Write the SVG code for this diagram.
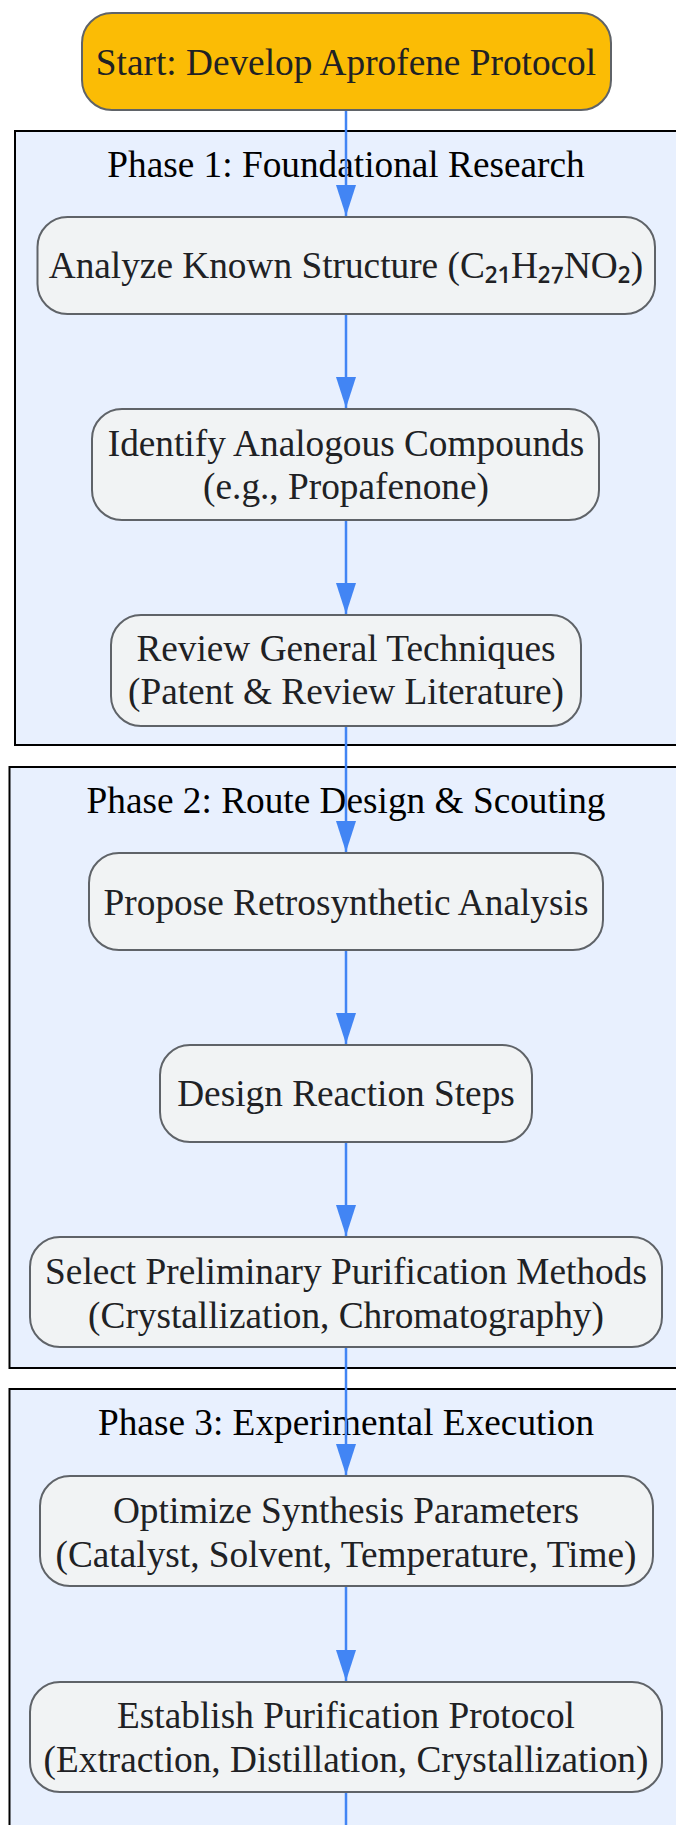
<svg xmlns="http://www.w3.org/2000/svg" width="676" height="1825" viewBox="0 0 676 1825">
<style>
.cluster{fill:#E8F0FE;stroke:#000;stroke-width:2}
.ctitle{font-family:"Liberation Serif","Times New Roman",serif;font-size:37.3px;fill:#000;text-anchor:middle}
.node{fill:#F1F3F4;stroke:#5F6368;stroke-width:2}
.start{fill:#FBBC05;stroke:#5F6368;stroke-width:2}
.label{font-family:"Liberation Serif","Times New Roman",serif;font-size:37.3px;fill:#202124;text-anchor:middle}
.sub{font-family:"Noto Sans",sans-serif}
.edge{stroke:#4285F4;stroke-width:2.5;fill:none}
</style>
<defs>
<marker id="arrow" markerUnits="userSpaceOnUse" markerWidth="31" markerHeight="20" refX="31" refY="10" orient="auto">
<path d="M0,0 L31,10 L0,20 z" fill="#4285F4"/>
</marker>
</defs>
<g id="clusters">
<g id="phase1">
<rect class="cluster" x="15" y="131" width="665" height="614"/>
<text class="ctitle" x="346" y="177">Phase 1: Foundational Research</text>
</g>
<g id="phase2">
<rect class="cluster" x="9.5" y="767" width="670" height="601"/>
<text class="ctitle" x="346" y="813">Phase 2: Route Design &amp; Scouting</text>
</g>
<g id="phase3">
<rect class="cluster" x="9.5" y="1389" width="670" height="460"/>
<text class="ctitle" x="346" y="1435">Phase 3: Experimental Execution</text>
</g>
</g>
<g id="edges">
<line class="edge" x1="346" y1="110" x2="346" y2="216" marker-end="url(#arrow)"/>
<line class="edge" x1="346" y1="314" x2="346" y2="408" marker-end="url(#arrow)"/>
<line class="edge" x1="346" y1="520" x2="346" y2="614" marker-end="url(#arrow)"/>
<line class="edge" x1="346" y1="726" x2="346" y2="852" marker-end="url(#arrow)"/>
<line class="edge" x1="346" y1="950" x2="346" y2="1044" marker-end="url(#arrow)"/>
<line class="edge" x1="346" y1="1142" x2="346" y2="1236" marker-end="url(#arrow)"/>
<line class="edge" x1="346" y1="1347" x2="346" y2="1475" marker-end="url(#arrow)"/>
<line class="edge" x1="346" y1="1586" x2="346" y2="1681" marker-end="url(#arrow)"/>
<line class="edge" x1="346" y1="1792" x2="346" y2="1825"/>
</g>
<g id="start">
<rect class="start" x="82" y="13" width="529" height="97" rx="30" ry="30"/>
<text class="label" x="346" y="75">Start: Develop Aprofene Protocol</text>
</g>
<g id="analyze">
<rect class="node" x="37.5" y="217" width="617.5" height="97" rx="30" ry="30"/>
<text class="label" x="346" y="278">Analyze Known Structure (C<tspan class="sub">₂₁</tspan>H<tspan class="sub">₂₇</tspan>NO<tspan class="sub">₂</tspan>)</text>
</g>
<g id="identify">
<rect class="node" x="92" y="409" width="507" height="111" rx="30" ry="30"/>
<text class="label" x="346" y="456">Identify Analogous Compounds</text>
<text class="label" x="346" y="499">(e.g., Propafenone)</text>
</g>
<g id="review">
<rect class="node" x="111" y="615" width="470" height="111" rx="30" ry="30"/>
<text class="label" x="346" y="661">Review General Techniques</text>
<text class="label" x="346" y="704">(Patent &amp; Review Literature)</text>
</g>
<g id="propose">
<rect class="node" x="89" y="853" width="514" height="97" rx="30" ry="30"/>
<text class="label" x="346" y="915">Propose Retrosynthetic Analysis</text>
</g>
<g id="design">
<rect class="node" x="160" y="1045" width="372" height="97" rx="30" ry="30"/>
<text class="label" x="346" y="1106">Design Reaction Steps</text>
</g>
<g id="select">
<rect class="node" x="30" y="1237" width="632" height="110" rx="30" ry="30"/>
<text class="label" x="346" y="1284">Select Preliminary Purification Methods</text>
<text class="label" x="346" y="1328">(Crystallization, Chromatography)</text>
</g>
<g id="optimize">
<rect class="node" x="40" y="1476" width="613" height="110" rx="30" ry="30"/>
<text class="label" x="346" y="1523">Optimize Synthesis Parameters</text>
<text class="label" x="346" y="1567">(Catalyst, Solvent, Temperature, Time)</text>
</g>
<g id="establish">
<rect class="node" x="30" y="1682" width="632" height="110" rx="30" ry="30"/>
<text class="label" x="346" y="1728">Establish Purification Protocol</text>
<text class="label" x="346" y="1772">(Extraction, Distillation, Crystallization)</text>
</g>
</svg>
